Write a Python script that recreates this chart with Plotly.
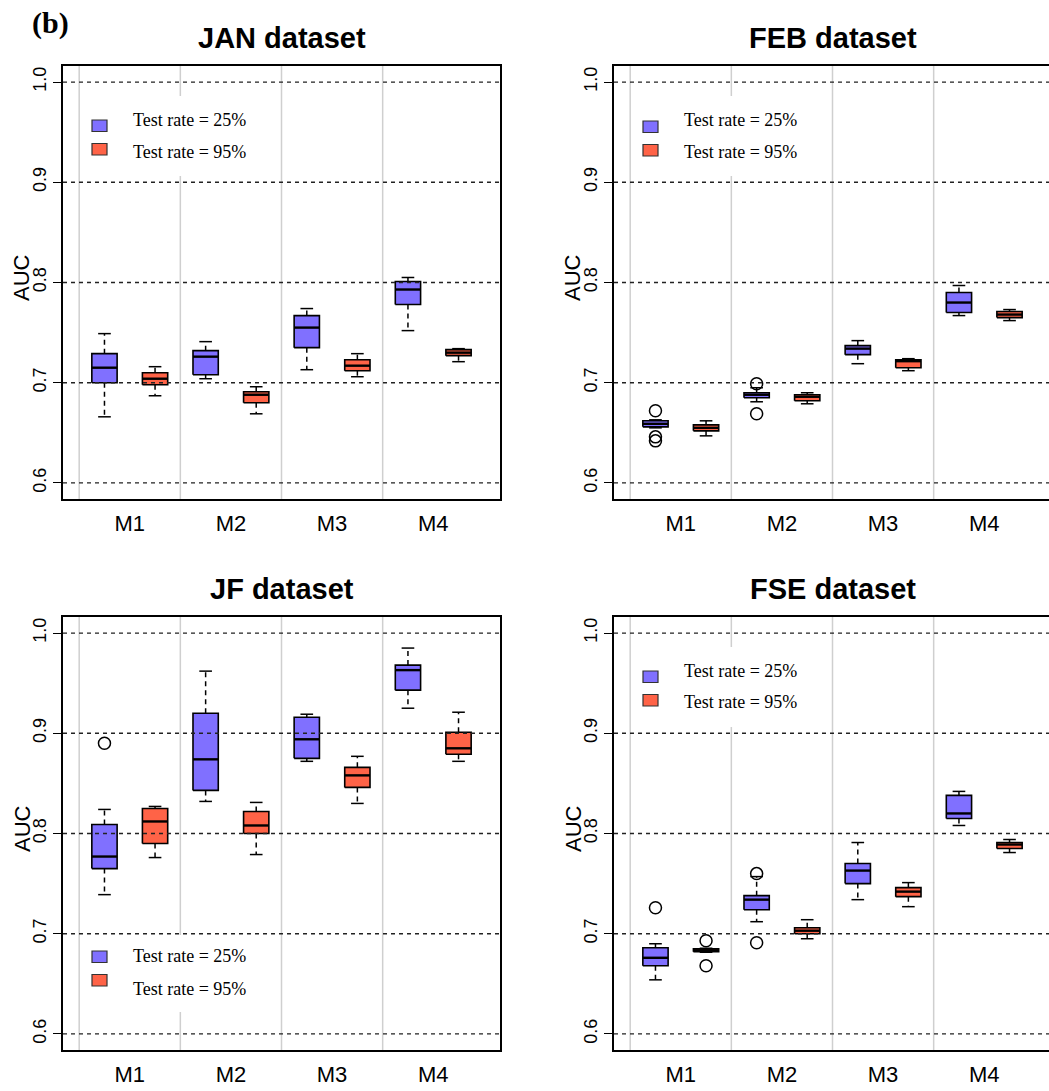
import plotly.graph_objects as go

# ---------------------------------------------------------------------------
# Data: AUC summaries per model, (lower whisker, Q1, median, Q3, upper whisker)
# ---------------------------------------------------------------------------
models = ["M1", "M2", "M3", "M4"]
rate_labels = ["Test rate = 25%", "Test rate = 95%"]
y_ticks = [0.6, 0.7, 0.8, 0.9, 1.0]

jan_25 = [(0.666, 0.700, 0.715, 0.729, 0.749),
          (0.704, 0.708, 0.726, 0.732, 0.741),
          (0.713, 0.735, 0.755, 0.767, 0.774),
          (0.752, 0.778, 0.793, 0.801, 0.805)]
jan_95 = [(0.687, 0.698, 0.704, 0.710, 0.716),
          (0.669, 0.680, 0.688, 0.691, 0.696),
          (0.706, 0.712, 0.717, 0.723, 0.729),
          (0.721, 0.727, 0.730, 0.733, 0.734)]
jan_25_out = [[], [], [], []]
jan_95_out = [[], [], [], []]

feb_25 = [(0.655, 0.656, 0.659, 0.662, 0.663),
          (0.681, 0.685, 0.688, 0.690, 0.695),
          (0.719, 0.728, 0.734, 0.737, 0.742),
          (0.767, 0.770, 0.780, 0.790, 0.797)]
feb_95 = [(0.647, 0.652, 0.655, 0.658, 0.662),
          (0.679, 0.682, 0.686, 0.688, 0.690),
          (0.712, 0.715, 0.7215, 0.723, 0.724),
          (0.762, 0.765, 0.768, 0.771, 0.773)]
feb_25_out = [[0.672, 0.646, 0.642], [0.699, 0.669], [], []]
feb_95_out = [[], [], [], []]

jf_25 = [(0.739, 0.765, 0.777, 0.809, 0.824),
         (0.832, 0.843, 0.874, 0.920, 0.962),
         (0.872, 0.875, 0.894, 0.916, 0.919),
         (0.925, 0.943, 0.963, 0.968, 0.985)]
jf_95 = [(0.776, 0.790, 0.812, 0.825, 0.827),
         (0.779, 0.800, 0.808, 0.822, 0.831),
         (0.830, 0.846, 0.858, 0.866, 0.877),
         (0.872, 0.879, 0.885, 0.901, 0.921)]
jf_25_out = [[0.890], [], [], []]
jf_95_out = [[], [], [], []]

fse_25 = [(0.654, 0.668, 0.676, 0.686, 0.690),
          (0.712, 0.724, 0.734, 0.738, 0.757),
          (0.734, 0.750, 0.763, 0.770, 0.791),
          (0.808, 0.815, 0.820, 0.838, 0.842)]
fse_95 = [(0.6815, 0.682, 0.6835, 0.685, 0.6855),
          (0.695, 0.700, 0.703, 0.706, 0.714),
          (0.727, 0.737, 0.742, 0.746, 0.751),
          (0.781, 0.785, 0.789, 0.791, 0.794)]
fse_25_out = [[0.726], [0.760, 0.691], [], []]
fse_95_out = [[0.693, 0.668], [], [], []]

# ---------------------------------------------------------------------------
# Page geometry and styling
# ---------------------------------------------------------------------------
W, H = 1049, 1091
PANEL_W, PANEL_H = 437, 433
X_RANGE = (0.18, 8.82)
Y_RANGE = (0.584, 1.016)
UNIT = PANEL_W / (X_RANGE[1] - X_RANGE[0])

BLUE = "#8070FF"
RED = "#FF6347"
GRID_GRAY = "#cfcfcf"
SANS = "Liberation Sans, Arial, Helvetica, sans-serif"
SERIF = "Liberation Serif, Times New Roman, serif"

BOX_HALF = 0.25
CAP_HALF = 0.125

# leg = (square-1 top, label-1 centre, label-2 centre, background top, background bottom),
# all in pixels below the panel's top edge
panels = [
    dict(title="JAN dataset", s=(jan_25, jan_95), o=(jan_25_out, jan_95_out),
         left=63, top=66, leg=(54, 54, 86, 30, 110)),
    dict(title="FEB dataset", s=(feb_25, feb_95), o=(feb_25_out, feb_95_out),
         left=614, top=66, leg=(55, 54, 86, 30, 110)),
    dict(title="JF dataset", s=(jf_25, jf_95), o=(jf_25_out, jf_95_out),
         left=63, top=617, leg=(334, 339, 372, 318, 395)),
    dict(title="FSE dataset", s=(fse_25, fse_95), o=(fse_25_out, fse_95_out),
         left=614, top=617, leg=(54, 54, 85, 30, 110)),
]


def px_x(p):
    return p / W


def px_y(p):
    return 1 - p / H


fig = go.Figure()
shapes = []
annotations = []
layout_axes = {}

for k, pan in enumerate(panels):
    n = "" if k == 0 else str(k + 1)
    xa, ya = "x" + n, "y" + n
    L, T = pan["left"], pan["top"]
    right_px = min(L + PANEL_W, W)
    x_hi = X_RANGE[0] + (right_px - L) / UNIT
    is_left = L < W / 2

    layout_axes["xaxis" + n] = dict(
        domain=[px_x(L), px_x(right_px)], range=[X_RANGE[0], x_hi],
        anchor=ya, tickvals=[2 * i + 1.5 for i in range(len(models))],
        ticktext=models, ticks="", showgrid=False, zeroline=False,
        showline=True, mirror=True, linecolor="black", linewidth=1.5,
        tickfont=dict(family=SANS, size=22, color="black"),
        ticklabelstandoff=4,
    )
    layout_axes["yaxis" + n] = dict(
        domain=[px_y(T + PANEL_H), px_y(T)], range=list(Y_RANGE),
        anchor=xa, tickvals=y_ticks, ticktext=[f"{v:.1f}" for v in y_ticks],
        tickangle=-90, ticks="outside", ticklen=8, tickwidth=1.3,
        tickcolor="black", showgrid=False, zeroline=False,
        showline=True, mirror=is_left, linecolor="black", linewidth=1.5,
        tickfont=dict(family=SANS, size=18, color="black"),
    )

    # group separators (light gray verticals)
    for i in range(len(models)):
        shapes.append(dict(type="line", xref=xa, yref=ya + " domain",
                           x0=2 * i + 0.5, x1=2 * i + 0.5, y0=0, y1=1,
                           line=dict(color=GRID_GRAY, width=1.5), layer="below"))

    # legend background, squares and labels
    sq_top, t1, t2, bg_top, bg_bot = pan["leg"]
    shapes.append(dict(type="rect", xref="paper", yref="paper",
                       x0=px_x(L + 19), x1=px_x(L + 205),
                       y0=px_y(T + bg_bot), y1=px_y(T + bg_top),
                       fillcolor="white", line=dict(width=0), layer="below"))
    for j, (col, lab, ty) in enumerate(zip((BLUE, RED), rate_labels, (t1, t2))):
        top_sq = T + sq_top + j * 23.5
        shapes.append(dict(type="rect", xref="paper", yref="paper",
                           x0=px_x(L + 29), x1=px_x(L + 44),
                           y0=px_y(top_sq + 11.5), y1=px_y(top_sq),
                           fillcolor=col, line=dict(color="#333", width=1.2),
                           layer="above"))
        annotations.append(dict(text=lab, xref="paper", yref="paper",
                                x=px_x(L + 68), y=px_y(T + ty), xanchor="left",
                                yanchor="middle", showarrow=False,
                                font=dict(family=SERIF, size=18, color="black")))

    # dashed reference lines, drawn over the boxes
    for v in y_ticks:
        shapes.append(dict(type="line", xref=xa + " domain", yref=ya,
                           x0=0, x1=1, y0=v, y1=v,
                           line=dict(color="#222", width=1.3, dash="4px,4px"),
                           layer="above"))

    # boxes
    for r, (stats, outs, col) in enumerate(zip(pan["s"], pan["o"], (BLUE, RED))):
        bx, by, mx, my, wx, wy, cx, cy, ox, oy = ([] for _ in range(10))
        for i, (lo, q1, med, q3, hi) in enumerate(stats):
            p = 2 * i + 1 + r
            bx += [p - BOX_HALF, p + BOX_HALF, p + BOX_HALF, p - BOX_HALF, p - BOX_HALF, None]
            by += [q1, q1, q3, q3, q1, None]
            mx += [p - BOX_HALF, p + BOX_HALF, None]
            my += [med, med, None]
            wx += [p, p, None, p, p, None]
            wy += [q3, hi, None, q1, lo, None]
            cx += [p - CAP_HALF, p + CAP_HALF, None, p - CAP_HALF, p + CAP_HALF, None]
            cy += [hi, hi, None, lo, lo, None]
            for v in outs[i]:
                ox.append(p)
                oy.append(v)
        common = dict(xaxis=xa, yaxis=ya, showlegend=False, hoverinfo="skip")
        fig.add_trace(go.Scatter(x=wx, y=wy, mode="lines",
                                 line=dict(color="black", width=1.5, dash="5px,4px"), **common))
        fig.add_trace(go.Scatter(x=cx, y=cy, mode="lines",
                                 line=dict(color="black", width=1.5), **common))
        fig.add_trace(go.Scatter(x=bx, y=by, mode="lines", fill="toself", fillcolor=col,
                                 line=dict(color="black", width=1.6), **common))
        fig.add_trace(go.Scatter(x=mx, y=my, mode="lines",
                                 line=dict(color="black", width=2.4), **common))
        if ox:
            fig.add_trace(go.Scatter(x=ox, y=oy, mode="markers",
                                     marker=dict(symbol="circle-open", size=12,
                                                 color="black", line=dict(width=1.5)),
                                     **common))

    # panel title and y-axis label
    annotations.append(dict(text="<b>" + pan["title"] + "</b>", xref="paper", yref="paper",
                            x=px_x(L + PANEL_W / 2), y=px_y(T - 28),
                            xanchor="center", yanchor="middle", showarrow=False,
                            font=dict(family=SANS, size=29, color="black")))
    annotations.append(dict(text="AUC", xref="paper", yref="paper",
                            x=px_x(L - 41), y=px_y(T + 212), textangle=-90,
                            xanchor="center", yanchor="middle", showarrow=False,
                            font=dict(family=SANS, size=22, color="black")))

annotations.append(dict(text="<b>(b)</b>", xref="paper", yref="paper",
                        x=px_x(50), y=px_y(23), xanchor="center", yanchor="middle",
                        showarrow=False, font=dict(family=SERIF, size=30, color="black")))

fig.update_layout(
    width=W, height=H, margin=dict(l=0, r=0, t=0, b=0),
    paper_bgcolor="white", plot_bgcolor="white",
    shapes=shapes, annotations=annotations, showlegend=False,
    **layout_axes,
)

fig.write_html("out.html")
